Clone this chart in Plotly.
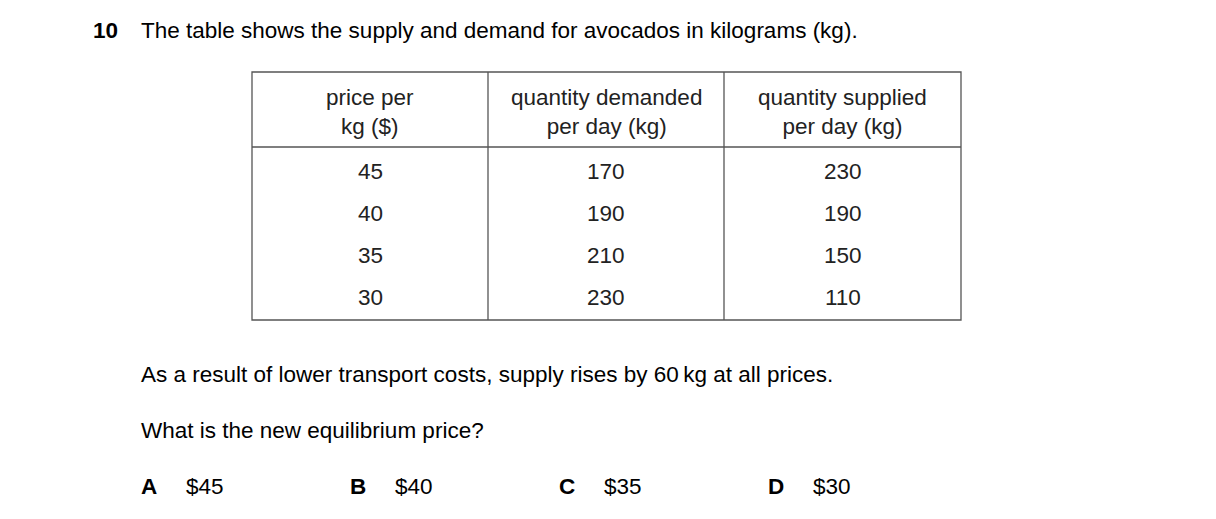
import plotly.graph_objects as go

headers = ["price per<br>kg ($)", "quantity demanded<br>per day (kg)", "quantity supplied<br>per day (kg)"]
price = [45, 40, 35, 30]
demanded = [170, 190, 210, 230]
supplied = [230, 190, 150, 110]
option_letters = ["A", "B", "C", "D"]
option_values = ["$45", "$40", "$35", "$30"]

FONT = "Liberation Sans, Arial, sans-serif"
FS = 22.5
W, H = 1216, 519
OFF = 8  # page body margin

fig = go.Figure()
fig.update_layout(
    width=W, height=H, margin=dict(l=0, r=0, t=0, b=0),
    plot_bgcolor="white", paper_bgcolor="white", showlegend=False,
    xaxis=dict(range=[OFF, W + OFF], visible=False, fixedrange=True),
    yaxis=dict(range=[H + OFF, OFF], visible=False, fixedrange=True),
    font=dict(family=FONT, size=FS, color="black"),
)

ann = []
def txt(x, y, s, anchor="left", bold=False, color="black"):
    if bold:
        s = "<b>" + s + "</b>"
    ann.append(dict(x=x, y=y, text=s, showarrow=False, xanchor=anchor, yanchor="middle",
                    xshift=0, font=dict(size=FS, family=FONT, color=color)))

txt(91, 30, "10", bold=True)
txt(139, 30, "The table shows the supply and demand for avocados in kilograms (kg).")

# table frame
left, right, top, hdr, bottom = 252, 961, 72, 147, 320
cols = [left, 488, 724, right]
line = dict(color="#555555", width=1.3)
shapes = [dict(type="rect", x0=left, x1=right, y0=top, y1=bottom, line=line)]
for cx in cols[1:-1]:
    shapes.append(dict(type="line", x0=cx, x1=cx, y0=top, y1=bottom, line=line))
shapes.append(dict(type="line", x0=left, x1=right, y0=hdr, y1=hdr, line=line))

centers = [(cols[i] + cols[i + 1]) / 2 for i in range(3)]
for c, h in zip(centers, headers):
    txt(c, 112, h, anchor="center", color="#222222")
for i, row in enumerate(zip(price, demanded, supplied)):
    y = 171 + i * 42
    for c, v in zip(centers, row):
        txt(c, y, str(v), anchor="center", color="#222222")

txt(139, 374, "As a result of lower transport costs, supply rises by 60\u2009kg at all prices.")
txt(139, 430, "What is the new equilibrium price?")

for i, (l, v) in enumerate(zip(option_letters, option_values)):
    x = 139 + i * 209
    txt(x, 486, l, bold=True)
    txt(x + 45, 486, v)

fig.update_layout(annotations=ann, shapes=shapes)
fig.write_html("out.html")
